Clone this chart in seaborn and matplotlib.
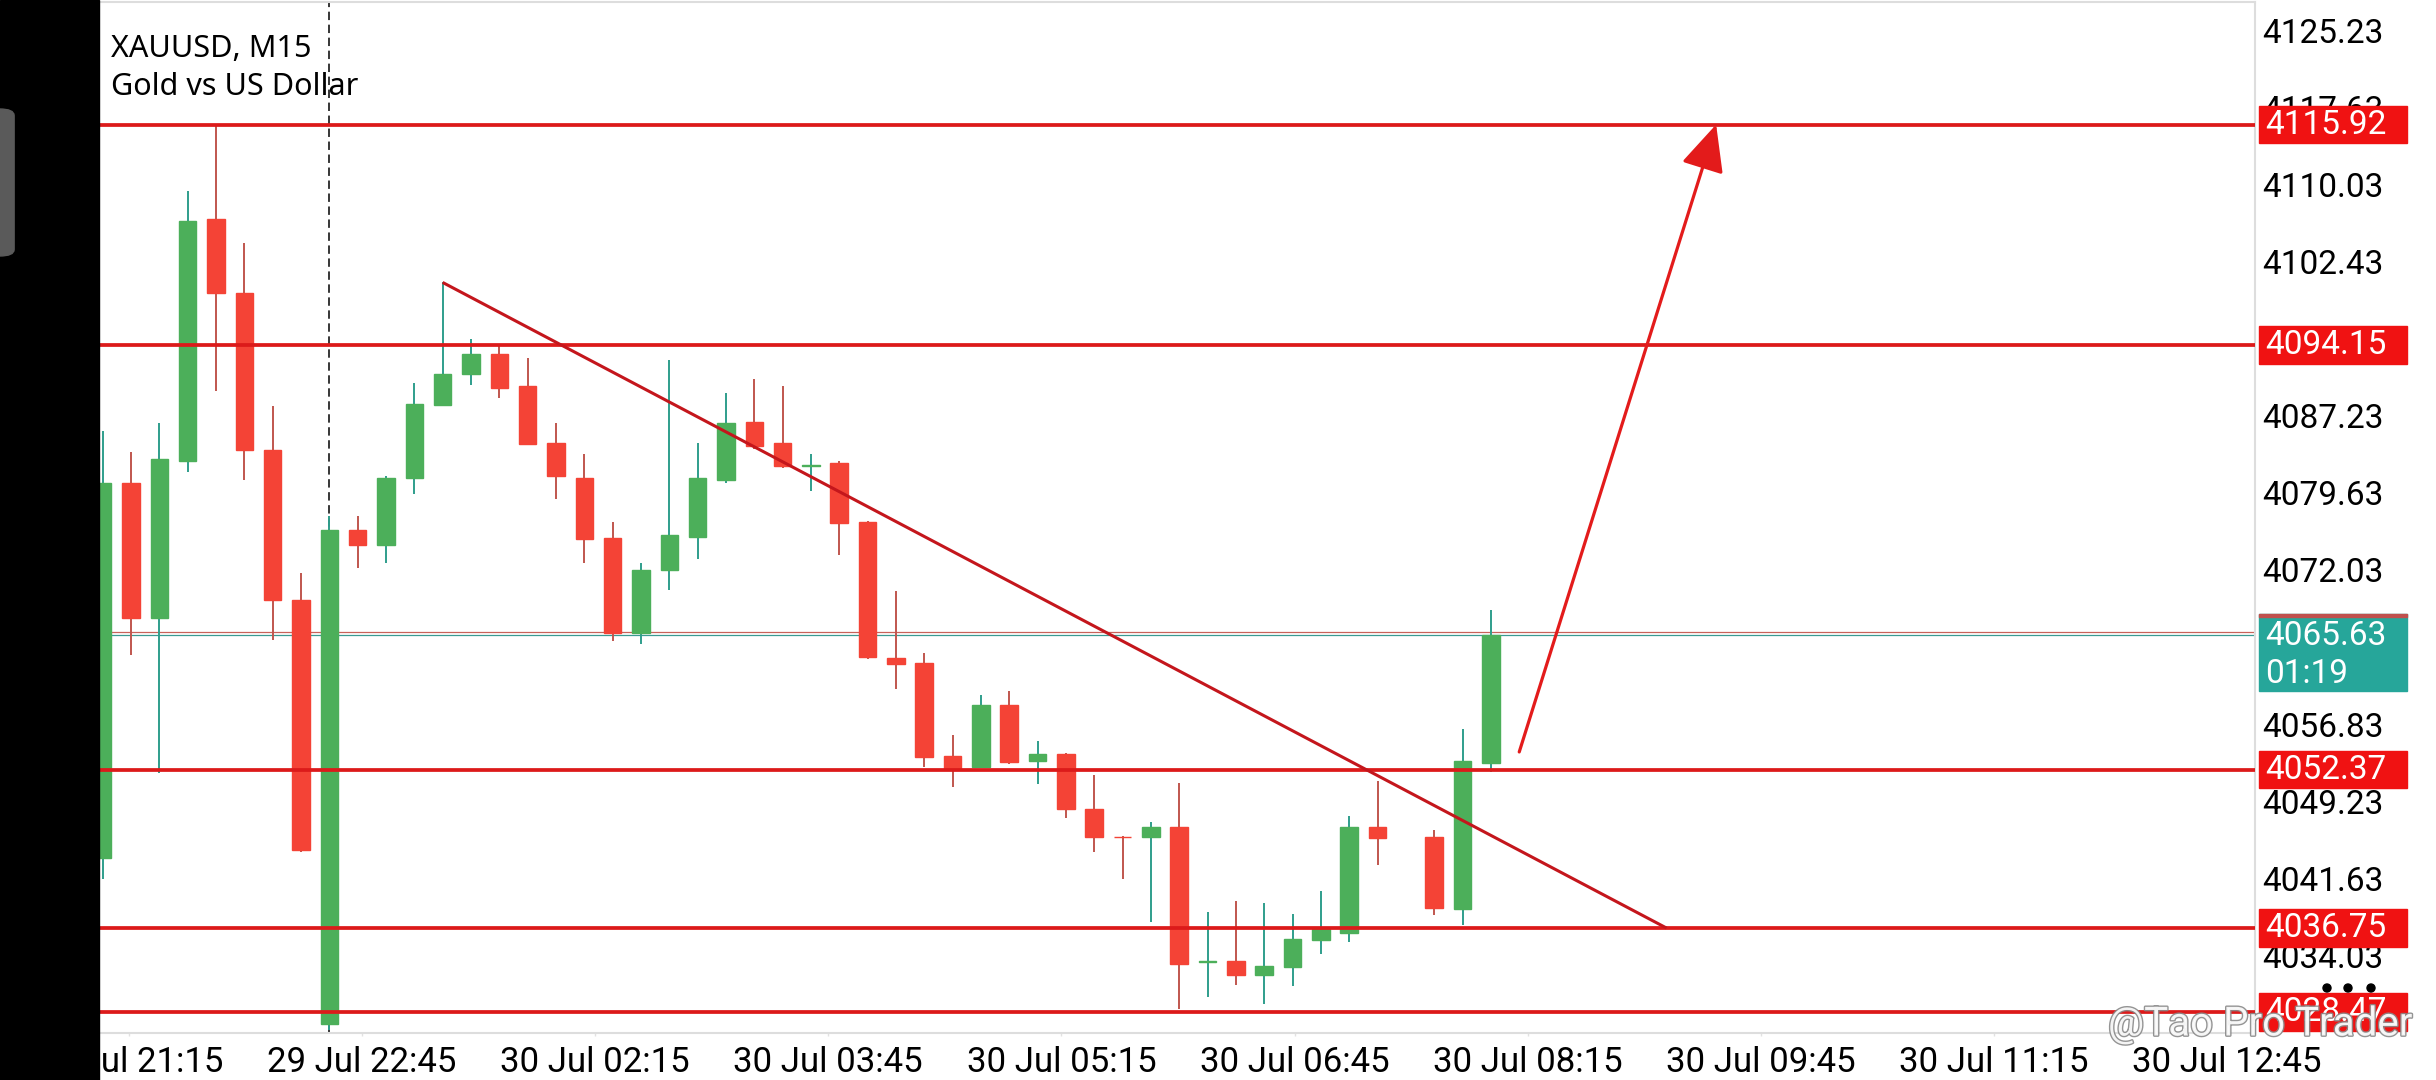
import numpy as np
import pandas as pd
import matplotlib
matplotlib.use("Agg")
import matplotlib.pyplot as plt
import matplotlib.patheffects as pe
from matplotlib.patches import Rectangle, FancyBboxPatch, FancyArrowPatch, Ellipse
import seaborn as sns

# --- chart data ---
symbol = "XAUUSD, M15"
description = "Gold vs US Dollar"

opens = [4043.66, 4080.64, 4067.25, 4082.81, 4106.57, 4099.33, 4083.89, 4069.06, 4027.26, 4075.93,
         4074.48, 4081.12, 4088.30, 4091.37, 4093.30, 4090.17, 4084.56, 4081.12, 4075.15, 4065.86,
         4072.01, 4075.27, 4080.94, 4086.61, 4084.50, 4082.30, 4082.57, 4076.78, 4063.39, 4062.85,
         4053.74, 4052.59, 4058.74, 4053.19, 4053.92, 4048.49, 4045.77, 4045.77, 4046.68, 4033.40,
         4033.53, 4032.08, 4032.87, 4035.58, 4036.31, 4046.68, np.nan, 4045.77, 4038.60, 4053.01]
highs = [4085.76, 4083.65, 4086.54, 4109.40, 4115.92, 4104.28, 4088.18, 4071.77, 4077.32, 4077.32,
         4081.30, 4090.41, 4100.36, 4094.81, 4094.33, 4092.94, 4086.49, 4083.47, 4076.72, 4072.68,
         4092.70, 4084.56, 4089.50, 4090.83, 4090.17, 4083.47, 4082.75, 4076.90, 4069.96, 4063.87,
         4055.79, 4059.71, 4060.13, 4055.18, 4053.95, 4051.87, 4045.80, 4047.16, 4051.08, 4038.36,
         4039.44, 4039.20, 4038.12, 4040.41, 4047.76, 4051.26, np.nan, 4046.44, 4056.33, 4068.09]
lows = [4041.61, 4063.63, 4051.99, 4081.72, 4089.68, 4080.94, 4065.14, 4044.27, 4026.66, 4072.19,
        4072.68, 4079.55, 4088.20, 4090.29, 4088.96, 4084.30, 4079.01, 4072.68, 4065.01, 4064.77,
        4070.08, 4073.10, 4080.58, 4083.95, 4082.10, 4079.85, 4073.46, 4063.27, 4060.31, 4052.59,
        4050.66, 4052.50, 4052.89, 4050.96, 4047.64, 4044.27, 4041.61, 4037.39, 4028.77, 4029.97,
        4031.18, 4029.25, 4031.00, 4034.19, 4035.40, 4042.94, np.nan, 4037.99, 4037.03, 4052.11]
closes = [4080.64, 4067.25, 4082.93, 4106.39, 4099.33, 4083.83, 4069.06, 4044.45, 4075.93, 4074.48,
          4081.12, 4088.36, 4091.37, 4093.30, 4089.92, 4084.44, 4081.24, 4075.09, 4065.86, 4072.07,
          4075.51, 4081.06, 4086.55, 4084.25, 4082.27, 4082.38, 4076.66, 4063.45, 4062.72, 4053.56,
          4052.47, 4058.74, 4053.07, 4053.92, 4048.49, 4045.77, 4045.70, 4046.68, 4033.17, 4033.48,
          4032.08, 4032.99, 4035.70, 4036.61, 4046.68, 4045.59, np.nan, 4038.72, 4053.19, 4065.63]

levels = [4115.92, 4094.15, 4052.37, 4036.75, 4028.47]
bid = 4065.63
ask = 4065.93
countdown = "01:19"
price_ticks = [4125.23, 4117.63, 4110.03, 4102.43, 4094.83, 4087.23, 4079.63,
               4072.03, 4064.43, 4056.83, 4049.23, 4041.63, 4034.03]
time_labels = ["29 Jul 21:15", "29 Jul 22:45", "30 Jul 02:15", "30 Jul 03:45", "30 Jul 05:15",
               "30 Jul 06:45", "30 Jul 08:15", "30 Jul 09:45", "30 Jul 11:15", "30 Jul 12:45"]
separator_bar = 8
trend_x = [12, 55.2]
trend_y = [4100.36, 4036.75]
arrow_x = [50.0, 56.95]
arrow_y = [4054.1, 4115.92]
watermark = "@Tao Pro Trader"

df = pd.DataFrame({"open": opens, "high": highs, "low": lows, "close": closes})
df["bar"] = np.arange(len(df))
df = df.dropna()
up = df["close"] >= df["open"]

# --- styling ---
sns.set_theme(style="white")
plt.rcParams["font.family"] = ["Roboto", "DejaVu Sans"]

GREEN, RED = "#4caf5a", "#f44336"
GREEN_WICK, RED_WICK = "#2f9e8c", "#c0564e"
LEVEL_RED, BOX_RED = "#dc1a1a", "#f01212"
TEAL = "#26a69a"

W, H = 2436, 1080
fig = plt.figure(figsize=(W / 100, H / 100), dpi=100)
fig.patch.set_facecolor("white")
ax = fig.add_axes([98.7 / W, 47 / H, (2255 - 98.7) / W, 1031 / H])
ax.set_facecolor("white")

# candles
body_col = np.where(up, GREEN, RED)
wick_col = np.where(up, GREEN_WICK, RED_WICK)
ax.vlines(df["bar"], df["low"], df["high"], colors=wick_col, linewidth=1.4, zorder=2)
ax.bar(df["bar"], (df["close"] - df["open"]).abs(), bottom=np.minimum(df["open"], df["close"]),
       width=0.62, color=body_col, edgecolor=body_col, linewidth=1.0, zorder=3)

# day separator & current price lines (behind candles)
ax.axvline(separator_bar, color="black", lw=1.1, linestyle=(0, (5.5, 3)), zorder=1)
ax.axhline(ask, color="#c8625a", lw=0.9, zorder=1.6)
ax.axhline(bid, color="#3a9a92", lw=0.9, zorder=1.6)

# support / resistance levels
for lv in levels:
    ax.axhline(lv, color=LEVEL_RED, lw=2.7, zorder=4)

# trend line and arrow
ax.plot(trend_x, trend_y, color="#c4161c", lw=2.2, zorder=4, solid_capstyle="butt")
ax.add_patch(FancyArrowPatch((arrow_x[0], arrow_y[0]), (arrow_x[1], arrow_y[1]),
                             arrowstyle="-|>,head_length=29,head_width=13.5", mutation_scale=1,
                             color="#e31b1b", lw=2.3, shrinkA=0, shrinkB=0, zorder=5))

ax.set_xlim(-0.14, 75.97)
ax.set_ylim(4026.41, 4127.99)

# axes
ax.yaxis.tick_right()
ax.set_yticks(price_ticks)
ax.set_yticklabels([f"{v:.2f}" for v in price_ticks])
ax.tick_params(axis="y", length=0, pad=5, labelsize=24, labelcolor="black")
ax.set_xticks(0.92 + 8.23 * np.arange(len(time_labels)))
ax.set_xticklabels(time_labels)
ax.tick_params(axis="x", length=2.5, width=1, color="#e2e2e2", pad=7, labelsize=25,
               labelcolor="black", bottom=True)
ax.spines["left"].set_visible(False)
for s in ["top", "right", "bottom"]:
    ax.spines[s].set_color("#dddddd")
    ax.spines[s].set_linewidth(1.5)

# price label boxes on the right
yx = ax.get_yaxis_transform()
bx0, bw = 1.0019, 0.0686
hh = 1.87
for lv in levels:
    ax.add_patch(Rectangle((bx0, lv - hh), bw, 2 * hh, transform=yx, color=BOX_RED,
                           clip_on=False, zorder=6))
    ax.text(bx0 + 0.0026, lv, f"{lv:.2f}", transform=yx, ha="left", va="center",
            color="white", fontsize=24, zorder=7, clip_on=False)

ax.add_patch(Rectangle((bx0, bid - 5.57), bw, 7.63, transform=yx, color=TEAL,
                       clip_on=False, zorder=6))
ax.add_patch(Rectangle((bx0, bid + 1.76), bw, 0.3, transform=yx, color="#c0504d",
                       clip_on=False, zorder=6))
ax.text(bx0 + 0.0026, bid - 0.1, f"{bid:.2f}", transform=yx, ha="left", va="center",
        color="white", fontsize=24, zorder=7, clip_on=False)
ax.text(bx0 + 0.0026, bid - 3.85, countdown, transform=yx, ha="left", va="center",
        color="white", fontsize=24, zorder=7, clip_on=False)

# symbol title
ax.text(0.0057, 0.9467, symbol, transform=ax.transAxes, fontsize=22, family="Noto Sans",
        va="baseline", color="black", zorder=0.5)
ax.text(0.0057, 0.9098, description, transform=ax.transAxes, fontsize=22, family="Noto Sans",
        va="baseline", color="black", zorder=0.5)

# phone screen decoration: black strip with grey handle on the left
fig.add_artist(Rectangle((0, 0), 98.7 / W, 1, transform=fig.transFigure, color="black", zorder=10))
fig.add_artist(FancyBboxPatch((-0.01, (H - 256) / H), 0.0158, 147 / H,
                              boxstyle="round,pad=0,rounding_size=0.006",
                              transform=fig.transFigure, color="#5a5a5a", zorder=11))

# menu dots and watermark
for dx in [2327, 2348, 2371]:
    fig.add_artist(Ellipse((dx / W, (H - 988) / H), 8 / W, 8 / H, transform=fig.transFigure,
                           color="black", zorder=12))
fig.text(2108 / W, (H - 1024) / H, watermark, fontsize=29, color="white", va="center",
         ha="left", alpha=0.9, zorder=13,
         path_effects=[pe.withStroke(linewidth=2, foreground="#888888")])

fig.savefig("out.png", dpi=100, facecolor="white")
